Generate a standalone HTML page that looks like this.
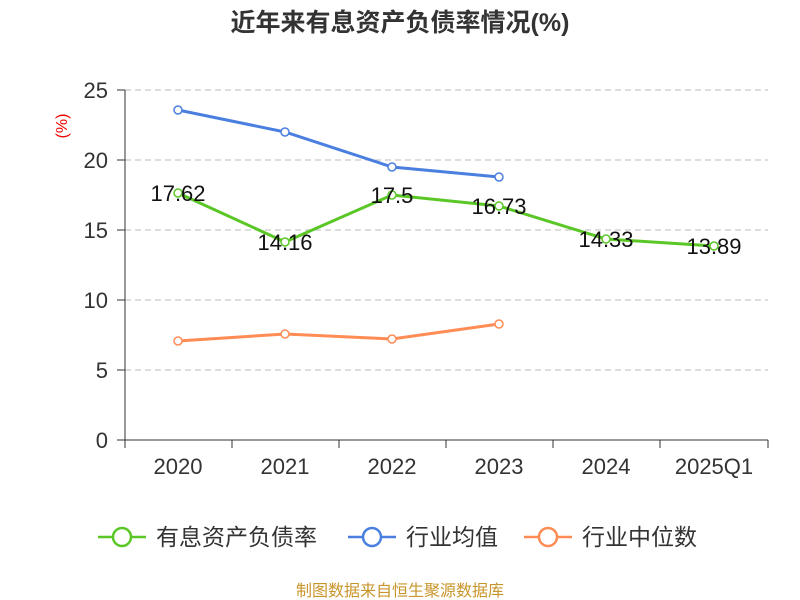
<!DOCTYPE html>
<html><head><meta charset="utf-8"><style>
body{margin:0;background:#fff;}
svg{display:block;font-family:"Liberation Sans","Noto Sans CJK SC",sans-serif;}
</style></head><body>
<svg width="800" height="600" xmlns="http://www.w3.org/2000/svg">
<text x="400" y="31" text-anchor="middle" font-size="25" font-weight="bold" fill="#333">近年来有息资产负债率情况(%)</text>
<text x="70" y="126" font-size="16" fill="#e00" transform="rotate(-90 70 126)" text-anchor="middle" dy="-3">(%)</text>
<g stroke="#bbb" stroke-dasharray="6,4" stroke-width="1">
<line x1="125" y1="90" x2="768" y2="90"/><line x1="125" y1="160" x2="768" y2="160"/>
<line x1="125" y1="230" x2="768" y2="230"/><line x1="125" y1="300" x2="768" y2="300"/>
<line x1="125" y1="370" x2="768" y2="370"/></g>
<line x1="125" y1="90" x2="125" y2="440" stroke="#333"/>
<line x1="125" y1="440" x2="768" y2="440" stroke="#333"/>
<g stroke="#333">
<line x1="117" y1="90" x2="125" y2="90"/><line x1="117" y1="160" x2="125" y2="160"/><line x1="117" y1="230" x2="125" y2="230"/><line x1="117" y1="300" x2="125" y2="300"/><line x1="117" y1="370" x2="125" y2="370"/><line x1="117" y1="440" x2="125" y2="440"/>
<line x1="125" y1="440" x2="125" y2="448"/><line x1="232" y1="440" x2="232" y2="448"/><line x1="339" y1="440" x2="339" y2="448"/><line x1="446" y1="440" x2="446" y2="448"/><line x1="553" y1="440" x2="553" y2="448"/><line x1="660" y1="440" x2="660" y2="448"/><line x1="768" y1="440" x2="768" y2="448"/>
</g>
<g font-size="22" fill="#333" text-anchor="end">
<text x="108" y="98">25</text><text x="108" y="168">20</text><text x="108" y="238">15</text><text x="108" y="308">10</text><text x="108" y="378">5</text><text x="108" y="448">0</text></g>
<g font-size="22" fill="#333" text-anchor="middle">
<text x="178" y="474">2020</text><text x="285" y="474">2021</text><text x="392" y="474">2022</text><text x="499" y="474">2023</text><text x="606" y="474">2024</text><text x="714" y="474">2025Q1</text></g>
<polyline fill="none" stroke="#5ac727" stroke-width="3" points="178,193 285,242 392,195 499,206 606,239 714,246"/>
<polyline fill="none" stroke="#4a7fe0" stroke-width="3" points="178,110 285,132 392,167 499,177"/>
<polyline fill="none" stroke="#ff8c55" stroke-width="3" points="178,341 285,334 392,339 499,324"/>
<g fill="#fff" stroke-width="1.5">
<g stroke="#5ac727"><circle cx="178" cy="193" r="4"/><circle cx="285" cy="242" r="4"/><circle cx="392" cy="195" r="4"/><circle cx="499" cy="206" r="4"/><circle cx="606" cy="239" r="4"/><circle cx="714" cy="246" r="4"/></g>
<g stroke="#4a7fe0"><circle cx="178" cy="110" r="4"/><circle cx="285" cy="132" r="4"/><circle cx="392" cy="167" r="4"/><circle cx="499" cy="177" r="4"/></g>
<g stroke="#ff8c55"><circle cx="178" cy="341" r="4"/><circle cx="285" cy="334" r="4"/><circle cx="392" cy="339" r="4"/><circle cx="499" cy="324" r="4"/></g>
</g>
<g font-size="22" fill="#111" text-anchor="middle">
<text x="178" y="201">17.62</text><text x="285" y="250">14.16</text><text x="392" y="203">17.5</text><text x="499" y="214">16.73</text><text x="606" y="247">14.33</text><text x="714" y="254">13.89</text></g>
<g stroke-width="2.5" fill="#fff">
<line x1="98" y1="537" x2="146" y2="537" stroke="#5ac727"/><circle cx="122" cy="537" r="9" stroke="#5ac727"/>
<line x1="348" y1="537" x2="396" y2="537" stroke="#4a7fe0"/><circle cx="372" cy="537" r="9" stroke="#4a7fe0"/>
<line x1="524" y1="537" x2="572" y2="537" stroke="#ff8c55"/><circle cx="548" cy="537" r="9" stroke="#ff8c55"/>
</g>
<g font-size="23" fill="#333">
<text x="156" y="545">有息资产负债率</text><text x="406" y="545">行业均值</text><text x="582" y="545">行业中位数</text></g>
<text x="400" y="596" text-anchor="middle" font-size="16" fill="#c8952a">制图数据来自恒生聚源数据库</text>
</svg>
</body></html>
